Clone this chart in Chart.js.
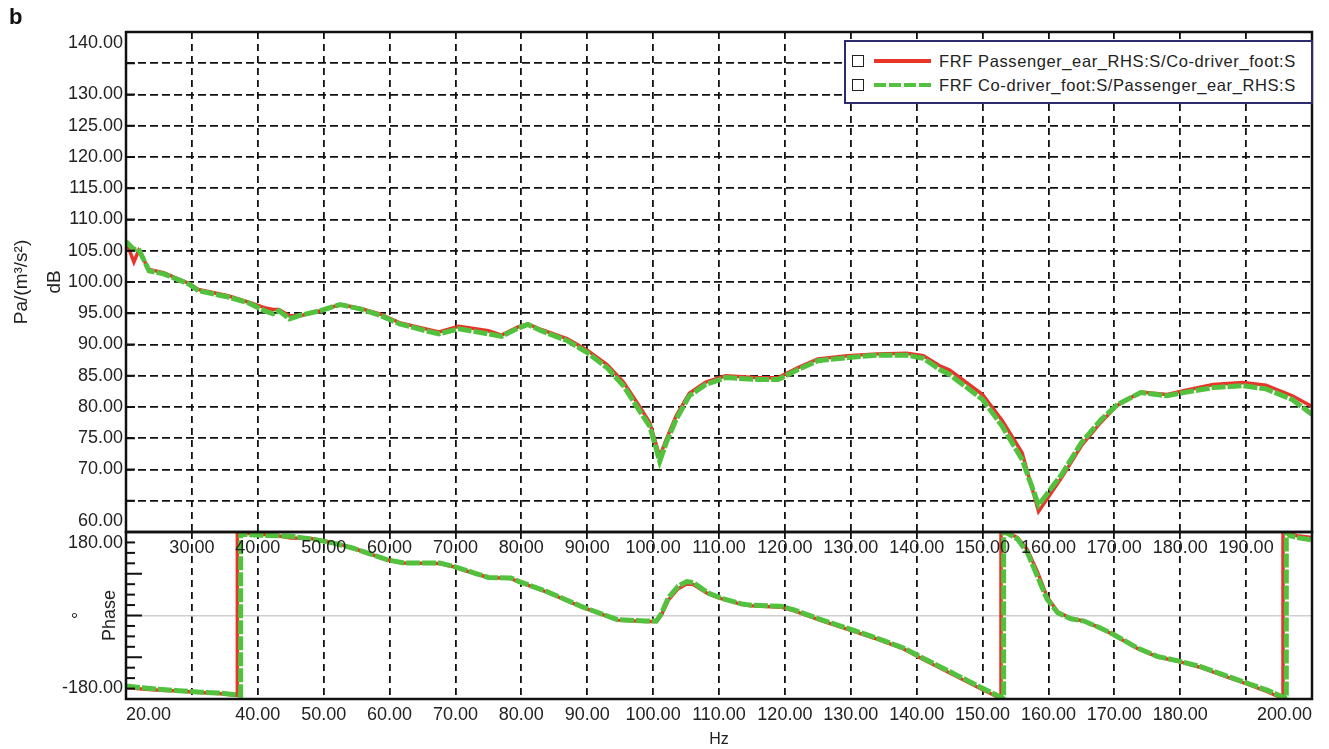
<!DOCTYPE html>
<html>
<head>
<meta charset="utf-8">
<script src="https://cdn.jsdelivr.net/npm/chart.js@4"></script>
<style>
  body { margin: 0; background: #fff; font-family: "Liberation Sans", Arial, sans-serif; }
  #wrap { position: relative; width: 1329px; height: 749px; }
  #wrap canvas { position: absolute; left: 0; top: 0; }
  #panelTag { position: absolute; left: 9px; top: 4px; font-weight: bold; font-size: 22px; color: #111; }
  #legendBox {
    position: absolute; left: 844px; top: 40px; width: 465px; height: 60px;
    border: 2px solid #2e2a6e; background: #fff; font-size: 16.5px; letter-spacing: 0.6px; color: #222;
  }
  .row { position: absolute; left: 6px; height: 24px; display: flex; align-items: center; }
  .chk { width: 10px; height: 10px; border: 1.5px solid #222; }
  .swatch { width: 57px; height: 4px; margin: 0 8px 0 10px; }
  .swatch.red { background: #e8352b; }
  .swatch.green { background: repeating-linear-gradient(90deg, #52c23e 0 12px, transparent 12px 15px); }
</style>
</head>
<body>
<div id="wrap">
  <canvas id="phaseChart" width="1329" height="749"></canvas>
  <canvas id="magChart" width="1329" height="749"></canvas>
  <div id="panelTag">b</div>
  <div id="legendBox">
    <div class="row" style="top:7px"><span class="chk"></span><span class="swatch red"></span><span>FRF Passenger_ear_RHS:S/Co-driver_foot:S</span></div>
    <div class="row" style="top:31px"><span class="chk"></span><span class="swatch green"></span><span>FRF Co-driver_foot:S/Passenger_ear_RHS:S</span></div>
  </div>
</div>
<script>
// magnitude (dB) of both transfer functions
const magFreq = [20, 21.2, 21.9, 23.5, 25.7, 29.5, 31, 35.5, 38.5, 41, 42.3, 43.2, 44.8, 46.5, 49.5, 52.5,
  55.5, 58.5, 61.5, 65.5, 67.5, 70.5, 75, 77, 79.5, 81, 83, 87, 90, 93, 95.5, 97.5, 99.5, 101, 102, 103.5,
  105.5, 108, 111, 116, 119, 122, 125, 129.5, 134, 138.5, 141, 143.5, 145, 150, 153, 156, 158.5, 162, 165,
  168, 170.5, 174, 178, 180.5, 185, 189.5, 193, 197, 200];
const magRed = [106.5, 103.2, 105.0, 102.0, 101.5, 99.8, 98.8, 97.8, 96.8, 95.9, 95.6, 95.6, 94.6, 94.6, 95.4, 96.4,
  95.8, 94.9, 93.5, 92.5, 92.0, 92.9, 92.2, 91.5, 92.8, 93.3, 92.4, 90.9, 89.1, 86.8, 84.0, 80.8, 77.5, 72.1, 74.8, 78.6,
  82.2, 84.0, 85.0, 84.7, 84.7, 86.3, 87.7, 88.2, 88.5, 88.6, 88.2, 86.6, 85.9, 82.0, 77.8, 72.7, 63.3, 68.7, 73.8,
  77.6, 80.3, 82.4, 82.0, 82.6, 83.6, 83.9, 83.5, 81.8, 80.1];
const magGreen = [106.5, 105.2, 105.3, 101.8, 101.3, 99.7, 98.6, 97.6, 96.7, 95.4, 94.9, 95.4, 94.1, 94.7, 95.4, 96.4,
  95.7, 94.7, 93.3, 92.2, 91.7, 92.5, 91.7, 91.3, 92.6, 93.2, 92.2, 90.6, 88.7, 86.3, 83.4, 80.1, 76.9, 71.3, 74.3, 78.0,
  81.8, 83.6, 84.7, 84.4, 84.4, 86.0, 87.4, 87.9, 88.3, 88.3, 87.8, 86.0, 85.2, 81.2, 76.9, 71.6, 64.3, 69.2, 74.3,
  78.0, 80.4, 82.3, 81.8, 82.3, 83.1, 83.4, 82.9, 81.2, 78.8];

// phase (deg), wrapped at +/-180
const phaseFreqRed = [20, 22, 25, 28, 31, 34, 36.9, 36.9, 37.5, 40.5, 43, 45, 48, 51.5, 54.5, 57, 59.7, 62.2,
  67.6, 69.7, 73, 75, 78.4, 79.7, 83.8, 89.2, 94.6, 98.9, 100.5, 101.3, 102.3, 103.8, 105.1, 106.1, 108.3, 110.2,
  113.4, 114.9, 119.4, 121.4, 125.5, 130, 133.6, 138, 141, 146, 150, 152.8, 152.8, 153.8, 155.3, 156.8, 158.3,
  159.8, 161.4, 163.4, 165.4, 167.9, 169.9, 173.5, 176.5, 180, 183.1, 186.6, 190, 193.2, 195.6, 195.6, 196.7,
  197.7, 200];
const phaseRed = [-155, -158, -161, -163, -166, -168, -172, 180, 178, 175, 172, 167, 166, 157, 145, 133, 120, 113,
  112, 105, 90, 82, 80, 72, 51, 18, -10, -13, -13, 2, 33, 58, 68, 67, 47, 37,
  24, 21, 18, 10, -11, -32, -49, -72, -95, -131, -160, -179, 180, 179, 168, 142, 95,
  40, 8, -6, -12, -27, -42, -71, -89, -100, -112, -130, -147, -164, -179, 180, 176,
  172, 168];
const phaseFreqGreen = [20, 22, 25, 28, 31, 34, 37.4, 37.4, 37.8, 40.5, 45, 49, 51.5, 54.5, 57, 59.7, 62.2,
  67.6, 69.7, 73, 75, 78.4, 79.7, 83.8, 89.2, 94.6, 98.9, 100.5, 101.3, 102.3, 103.8, 105.1, 106.1, 108.3, 110.2,
  113.4, 114.9, 119.4, 121.4, 125.5, 130, 133.6, 138, 141, 146, 150, 153.2, 153.2, 153.8, 155.3, 156.8, 158.3,
  159.8, 161.4, 163.4, 165.4, 167.9, 169.9, 173.5, 176.5, 180, 183.1, 186.6, 190, 193.2, 196.1, 196.1, 196.7,
  197.7, 200];
const phaseGreen = [-152, -155, -159, -162, -165, -167, -172, 180, 175, 173, 171, 163, 156, 145, 133, 120, 113,
  113, 106, 91, 82, 81, 73, 52, 19, -9, -12, -12, 5, 38, 63, 73, 71, 49, 38,
  25, 22, 20, 12, -9, -30, -47, -70, -92, -128, -157, -179, 180, 177, 165, 136, 85,
  35, 6, -7, -12, -27, -41, -70, -88, -99, -110, -128, -145, -161, -179, 180, 172,
  168, 163];

// tick labels that are printed
const dbLabels = [140, 130, 125, 120, 115, 110, 105, 100, 95, 90, 85, 80, 75, 70, 60];
const phaseLabels = [180, -180];
const upperHzLabels = [30, 40, 50, 60, 70, 80, 90, 100, 110, 120, 130, 140, 150, 160, 170, 180, 190];
const lowerHzLabels = [20, 40, 50, 60, 70, 80, 90, 100, 110, 120, 130, 140, 150, 160, 170, 180, 200];

const names = ['FRF Passenger_ear_RHS:S/Co-driver_foot:S', 'FRF Co-driver_foot:S/Passenger_ear_RHS:S'];
const RED = '#e8352b';
const GREEN = '#52c23e';
const INK = '#222';
const FAMILY = '"Liberation Sans", Arial, sans-serif';

const pts = (xs, ys) => xs.map((x, i) => ({ x: x, y: ys[i] }));

// edge labels get nudged inside the frame with an empty extra line
function edgeLabel(v, top, bottom) {
  const s = v.toFixed(2);
  if (v === top) return ['', s];
  if (v === bottom) return [s, ''];
  return s;
}

// black frame round the plot area
const framePlugin = {
  id: 'frame',
  afterDraw(chart) {
    const { ctx, chartArea: a } = chart;
    ctx.save();
    ctx.lineWidth = 2.5;
    ctx.strokeStyle = '#111';
    ctx.strokeRect(a.left, a.top, a.right - a.left, a.bottom - a.top);
    ctx.restore();
  }
};

// tick marks pointing into the plot from the left edge
const innerTicksPlugin = {
  id: 'innerTicks',
  afterDraw(chart, args, opts) {
    const y = chart.scales.y, a = chart.chartArea, ctx = chart.ctx;
    ctx.save();
    ctx.strokeStyle = '#111';
    ctx.lineWidth = 2;
    y.ticks.forEach(t => {
      const py = y.getPixelForValue(t.value);
      const len = (t.value % opts.every === 0) ? opts.long : opts.short;
      ctx.beginPath();
      ctx.moveTo(a.left, py);
      ctx.lineTo(a.left + len, py);
      ctx.stroke();
    });
    ctx.restore();
  }
};

const tickFont = { family: FAMILY, size: 18 };

function lineSets(redPts, greenPts) {
  return [
    { label: names[0], data: redPts, borderColor: RED, borderWidth: 3.5, pointRadius: 0, order: 1 },
    { label: names[1], data: greenPts, borderColor: GREEN, borderWidth: 5, borderDash: [14, 2], pointRadius: 0, order: 0 }
  ];
}

// magnitude panel
new Chart(document.getElementById('magChart'), {
  type: 'line',
  data: { datasets: lineSets(pts(magFreq, magRed), pts(magFreq, magGreen)) },
  options: {
    responsive: false,
    animation: false,
    layout: { padding: { top: 32, right: 17, bottom: 187, left: 0 } },
    plugins: {
      legend: { display: false },
      tooltip: { enabled: false },
      innerTicks: { every: 5, long: 9, short: 9 }
    },
    scales: {
      x: {
        type: 'linear', min: 20, max: 200,
        afterFit: s => { s.height = 30; },
        grid: { color: '#111', lineWidth: 1.8, drawTicks: false },
        border: { display: false, dash: [7, 5] },
        ticks: {
          stepSize: 10, autoSkip: false, maxRotation: 0, padding: 5, color: INK, font: tickFont,
          callback: v => upperHzLabels.includes(v) ? v.toFixed(2) : ''
        }
      },
      y: {
        min: 60, max: 140,
        afterFit: s => { s.width = 126; },
        grid: { color: '#111', lineWidth: 1.8, drawTicks: false },
        border: { display: false, dash: [8, 4] },
        ticks: {
          stepSize: 5, autoSkip: false, padding: 3, color: INK, font: tickFont,
          callback: v => dbLabels.includes(v) ? edgeLabel(v, 140, 60) : ''
        },
        title: {
          display: true, text: ['Pa/(m³/s²)', 'dB'], color: INK,
          font: { family: FAMILY, size: 19, lineHeight: 1.74 },
          padding: { top: 5.5, bottom: 0 }
        }
      }
    }
  },
  plugins: [framePlugin, innerTicksPlugin]
});

// phase panel
new Chart(document.getElementById('phaseChart'), {
  type: 'line',
  data: { datasets: lineSets(pts(phaseFreqRed, phaseRed), pts(phaseFreqGreen, phaseGreen)) },
  options: {
    responsive: false,
    animation: false,
    layout: { padding: { top: 532, right: 17, bottom: 0, left: 0 } },
    plugins: {
      legend: { display: false },
      tooltip: { enabled: false },
      innerTicks: { every: 90, long: 16, short: 9 }
    },
    scales: {
      x: {
        type: 'linear', min: 20, max: 200,
        afterFit: s => { s.height = 50; },
        grid: { color: '#111', lineWidth: 1.8, drawTicks: false },
        border: { display: false, dash: [7, 5] },
        ticks: {
          stepSize: 10, autoSkip: false, maxRotation: 0, padding: 5, align: 'inner', color: INK, font: tickFont,
          callback: v => lowerHzLabels.includes(v) ? v.toFixed(2) : ''
        },
        title: {
          display: true, text: 'Hz', color: INK,
          font: { family: FAMILY, size: 16 },
          padding: { top: 0, bottom: 0 }
        }
      },
      y: {
        min: -180, max: 180,
        afterFit: s => { s.width = 126; },
        grid: {
          color: c => c.tick && c.tick.value === 0 ? '#cfcfcf' : 'rgba(0,0,0,0)',
          lineWidth: 1.5, drawTicks: false
        },
        border: { display: false },
        ticks: {
          stepSize: 22.5, autoSkip: false, padding: 3, color: INK, font: tickFont,
          callback: v => phaseLabels.includes(v) ? edgeLabel(v, 180, -180) : ''
        },
        title: {
          display: true, text: ['°', 'Phase'], color: INK,
          font: { family: FAMILY, size: 18, lineHeight: 1.667 },
          padding: { top: 65, bottom: 0 }
        }
      }
    }
  },
  plugins: [framePlugin, innerTicksPlugin]
});
</script>
</body>
</html>
